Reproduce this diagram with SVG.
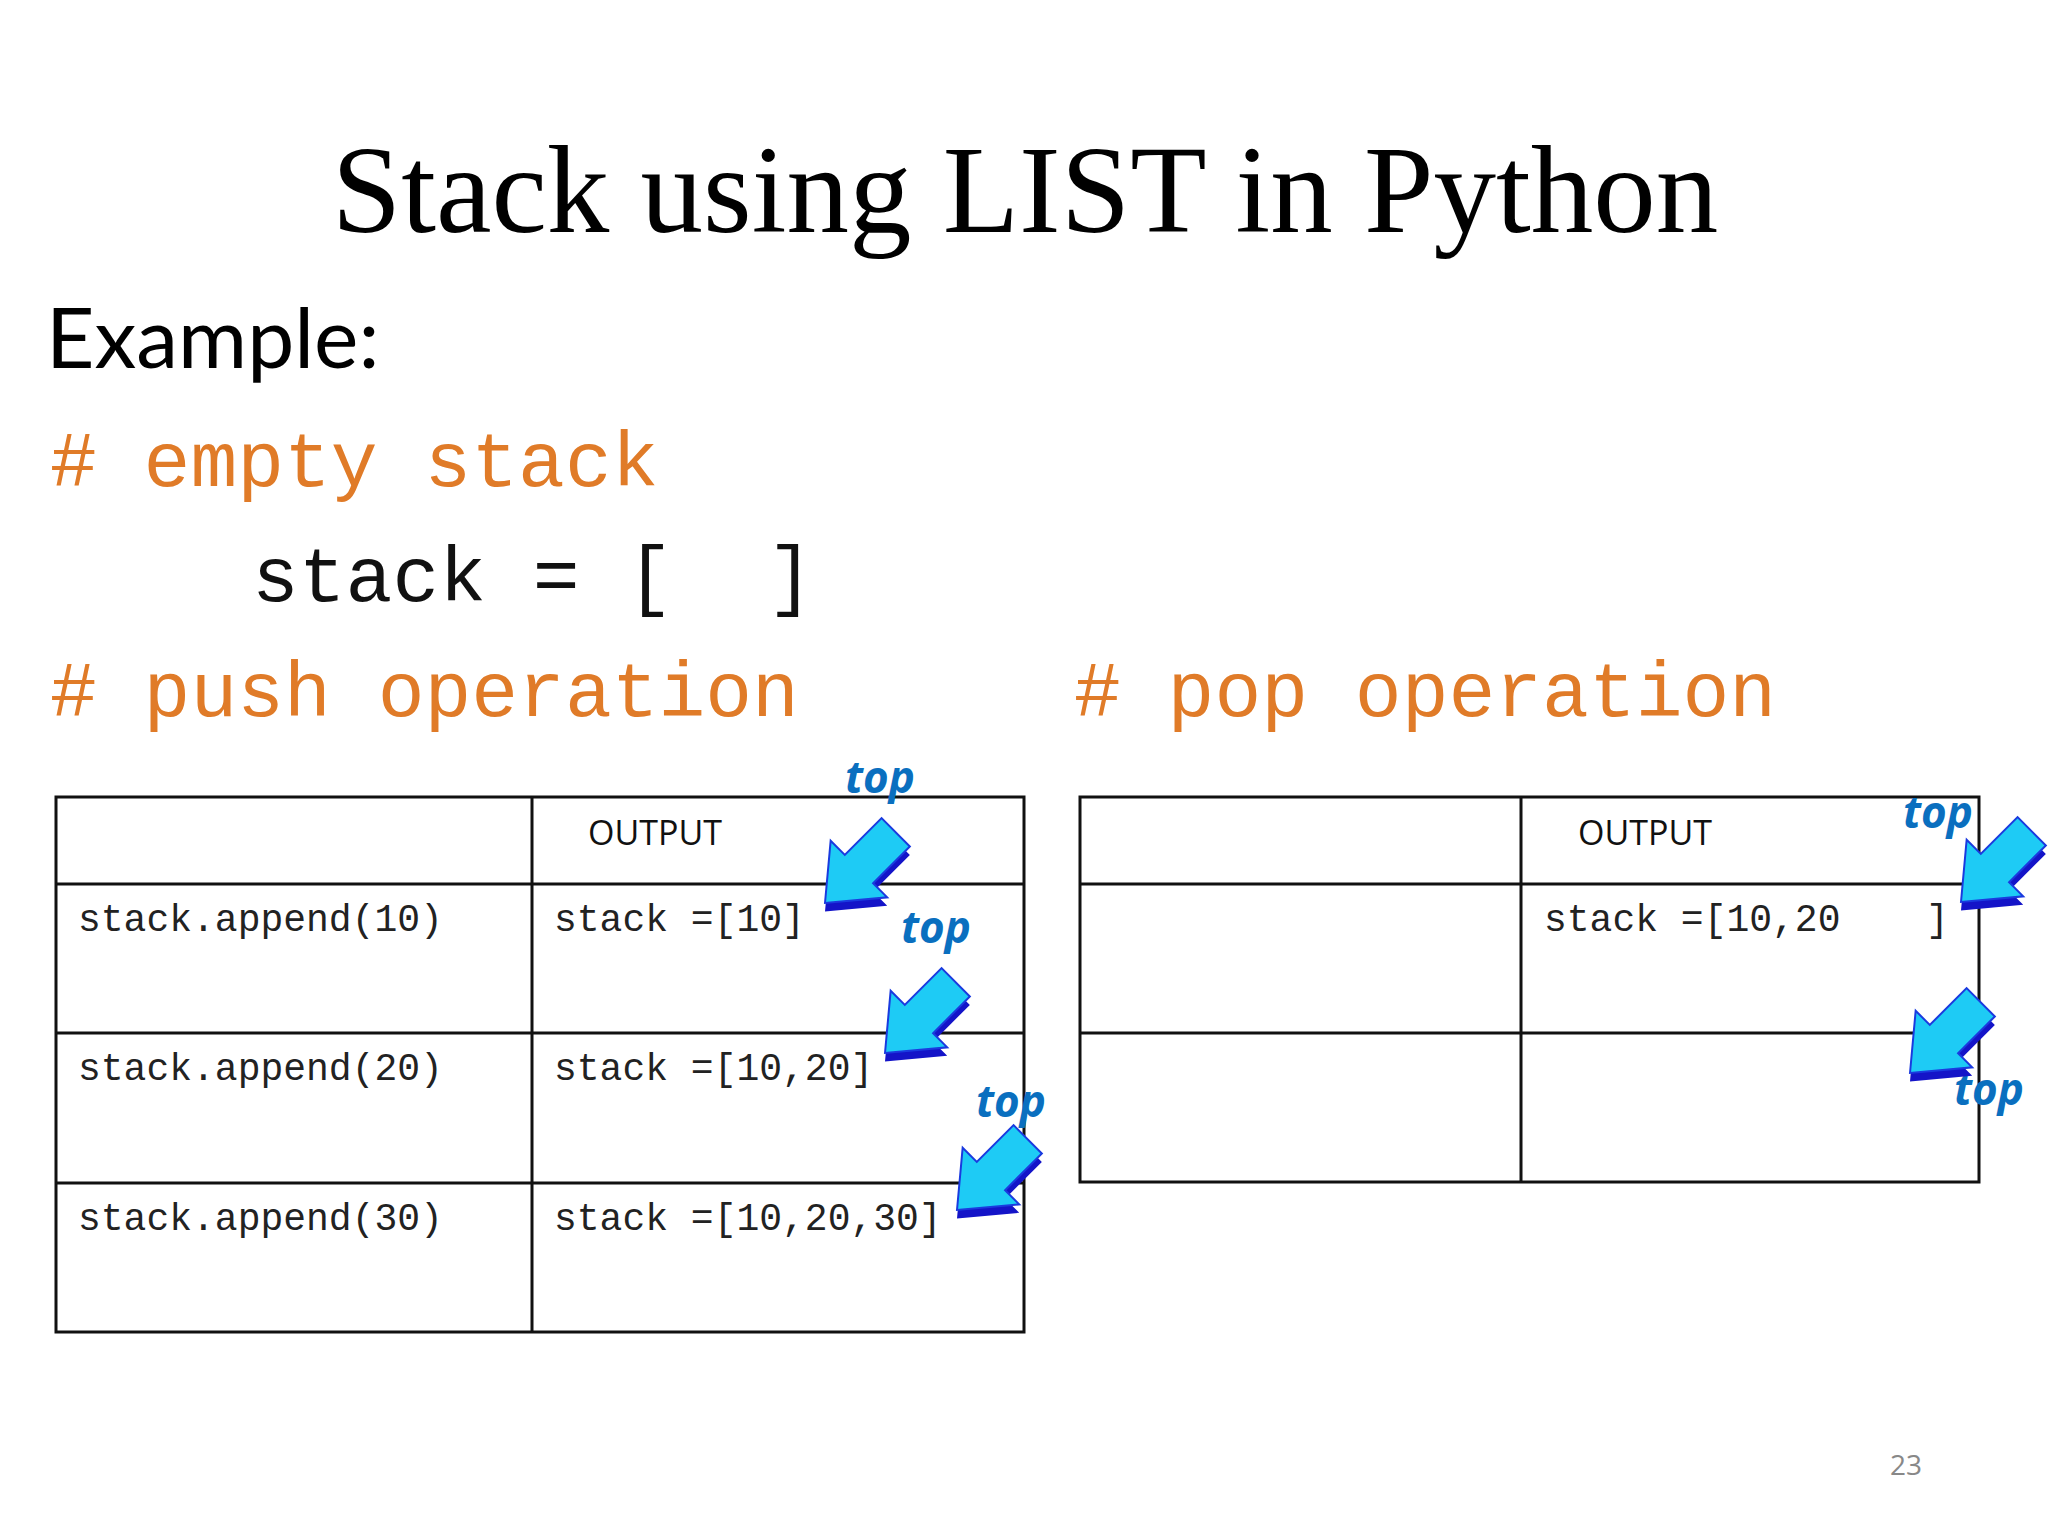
<svg xmlns="http://www.w3.org/2000/svg" width="2048" height="1536" viewBox="0 0 2048 1536">
<style>
.code{font-family:"Liberation Mono","Courier New",monospace;white-space:pre}
.cm{fill:#E07B28;font-size:78px}
.tc{font-size:38px;fill:#222}
.hd{font-family:"Open Sans","Noto Sans",sans-serif;font-size:34px;fill:#111}
.top{font-family:"Open Sans","Noto Sans",sans-serif;font-size:44px;font-weight:bold;font-style:italic;fill:#0A6FBF}
.grid{fill:none;stroke:#111;stroke-width:3}
</style>
<defs>
<g id="arr">
<path d="M0,0 L-40,-48 L-20,-48 L-20,-100 L20,-100 L20,-48 L40,-48 Z" fill="#1414C8" transform="translate(6,6)"/>
<path d="M0,0 L-40,-48 L-20,-48 L-20,-100 L20,-100 L20,-48 L40,-48 Z" fill="#1ECBF5" stroke="#1a3adf" stroke-width="2"/>
</g>
</defs>
<rect width="2048" height="1536" fill="#fff"/>
<text x="1025" y="232" text-anchor="middle" font-family="Liberation Serif,serif" font-size="125">Stack using LIST in Python</text>
<text x="46" y="368" font-family="Lato,'Open Sans',sans-serif" font-size="84">Example:</text>
<text class="code cm" x="50" y="486"># empty stack</text>
<text class="code" x="252" y="601" font-size="78" fill="#111">stack = [  ]</text>
<text class="code cm" x="50" y="716"># push operation</text>
<text class="code cm" x="1074" y="716"># pop operation</text>
<g id="push-table">
<rect class="grid" x="56" y="797" width="968" height="535"/>
<path class="grid" d="M532,797V1332M56,884H1024M56,1033H1024M56,1183H1024"/>
<text class="hd" x="588" y="845">OUTPUT</text>
<text class="code tc" x="78" y="931">stack.append(10)</text>
<text class="code tc" x="78" y="1080">stack.append(20)</text>
<text class="code tc" x="78" y="1230">stack.append(30)</text>
<text class="code tc" x="554" y="931">stack =[10]</text>
<text class="code tc" x="554" y="1080">stack =[10,20]</text>
<text class="code tc" x="554" y="1230">stack =[10,20,30]</text>
</g>
<g id="pop-table">
<rect class="grid" x="1080" y="797" width="899" height="385"/>
<path class="grid" d="M1521,797V1182M1080,884H1979M1080,1033H1979"/>
<text class="hd" x="1578" y="845">OUTPUT</text>
<text class="code tc" x="1544" y="931">stack =[10,20</text>
<text class="code tc" x="1926" y="931">]</text>
</g>
<g id="pointers">
<text class="top" x="845" y="793">top</text>
<text class="top" x="901" y="943">top</text>
<text class="top" x="976" y="1117">top</text>
<text class="top" x="1903" y="828">top</text>
<text class="top" x="1954" y="1105">top</text>
<use href="#arr" transform="translate(825,903) rotate(45)"/>
<use href="#arr" transform="translate(885,1053) rotate(45)"/>
<use href="#arr" transform="translate(957,1210) rotate(45)"/>
<use href="#arr" transform="translate(1961,902) rotate(45)"/>
<use href="#arr" transform="translate(1910,1073) rotate(45)"/>
</g>
<text x="1890" y="1475" font-family="Open Sans,sans-serif" font-size="28" fill="#888">23</text>
</svg>
